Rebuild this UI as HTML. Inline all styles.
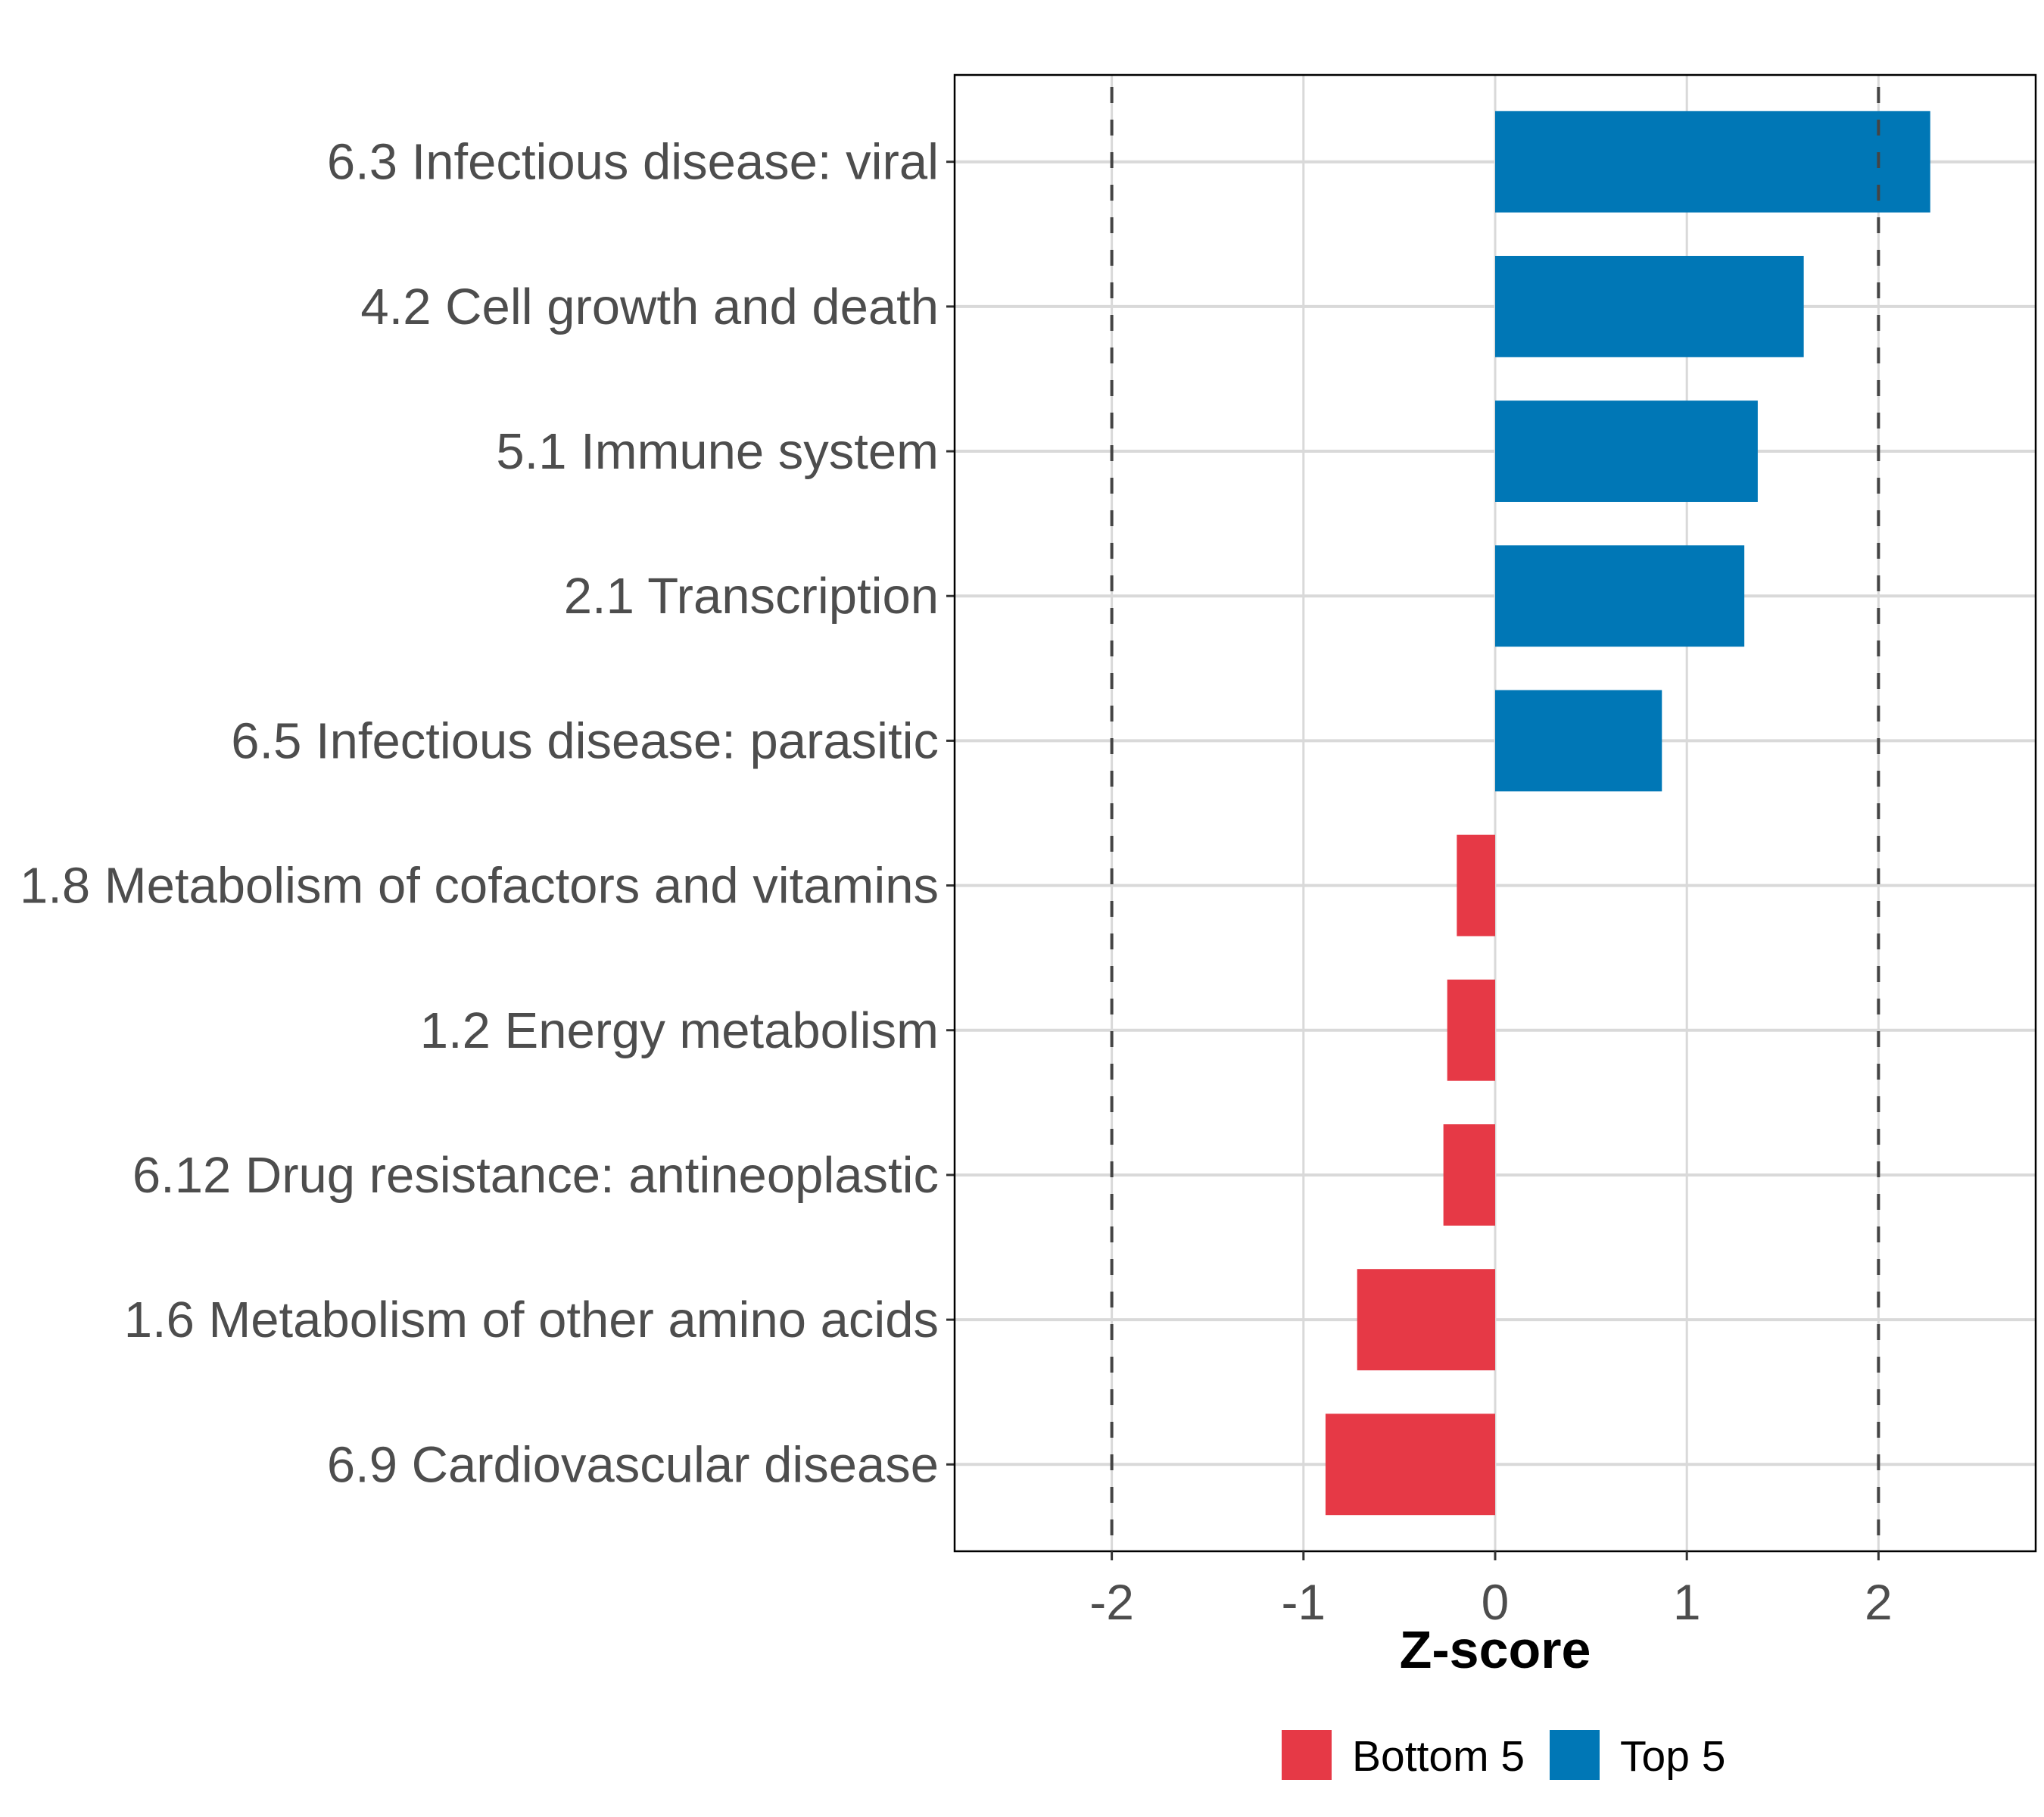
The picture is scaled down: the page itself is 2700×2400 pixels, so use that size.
<!DOCTYPE html>
<html><head><meta charset="utf-8"><style>
html,body{margin:0;padding:0;background:#fff}
svg{display:block;font-family:"Liberation Sans",sans-serif}
</style></head><body>
<svg id="chart" width="2700" height="2400" viewBox="0 0 2700 2400" xmlns="http://www.w3.org/2000/svg">
<rect width="2700" height="2400" fill="#fff"/>
<g id="grid"></g><g id="bars"></g><g id="refs"></g><g id="axes"></g>
</svg>
<script>
const categories = ["6.3 Infectious disease: viral","4.2 Cell growth and death","5.1 Immune system","2.1 Transcription","6.5 Infectious disease: parasitic","1.8 Metabolism of cofactors and vitamins","1.2 Energy metabolism","6.12 Drug resistance: antineoplastic","1.6 Metabolism of other amino acids","6.9 Cardiovascular disease"];
const zscores = [2.27, 1.61, 1.37, 1.30, 0.87, -0.20, -0.25, -0.27, -0.72, -0.885];
const groups = ["Top 5","Top 5","Top 5","Top 5","Top 5","Bottom 5","Bottom 5","Bottom 5","Bottom 5","Bottom 5"];
const xTicks = [-2, -1, 0, 1, 2];
const xTickLabels = ["-2","-1","0","1","2"];
const refLines = [-2, 2];
const legendItems = ["Bottom 5","Top 5"];

const NS="http://www.w3.org/2000/svg";
const L=1261,R=2689,T=99,B=2049;
const xMin=-2.82,xMax=2.82;
const colors={"Top 5":"#0077b6","Bottom 5":"#e63946"};
function x(v){return L+(v-xMin)/(xMax-xMin)*(R-L);}
const band=(B-T)/(categories.length-1+1.2);
function y(i){return T+band*(0.6+i);}
function mk(tag,attrs,parent){const e=document.createElementNS(NS,tag);for(const k in attrs)e.setAttribute(k,attrs[k]);parent.appendChild(e);return e;}
const gGrid=document.getElementById('grid'),gBars=document.getElementById('bars'),gRefs=document.getElementById('refs'),gAx=document.getElementById('axes');

xTicks.forEach(t=>{const l=mk('line',{x1:x(t),x2:x(t),y1:T,y2:B,stroke:'#d9d9d9','stroke-width':3},gGrid);

});
categories.forEach((c,i)=>{const l=mk('line',{x1:L,x2:R,y1:y(i),y2:y(i),stroke:'#d9d9d9','stroke-width':4},gGrid);

});

categories.forEach((c,i)=>{const v=zscores[i];const bh=band*0.7;
const r=mk('rect',{x:Math.min(x(0),x(v)),y:y(i)-bh/2,width:Math.abs(x(v)-x(0)),height:bh,fill:colors[groups[i]]},gBars);


const tk=mk('line',{x1:L-11,x2:L,y1:y(i),y2:y(i),stroke:'#333','stroke-width':3},gAx);


const t=mk('text',{x:L-21,y:y(i)+23,'text-anchor':'end','font-size':67,fill:'#4d4d4d'},gAx);t.textContent=c;

});

refLines.forEach(v=>{const l=mk('line',{x1:x(v),x2:x(v),y1:T,y2:B,stroke:'#444','stroke-width':4,'stroke-dasharray':'21 22','stroke-dashoffset':'-16'},gRefs);

});

const frame=mk('rect',{x:L,y:T,width:R-L,height:B-T,fill:'none',stroke:'#000','stroke-width':2.5},gAx);



xTicks.forEach((t,i)=>{const l=mk('line',{x1:x(t),x2:x(t),y1:B,y2:B+12,stroke:'#333','stroke-width':3},gAx);


const tx=mk('text',{x:x(t),y:2139,'text-anchor':'middle','font-size':66,fill:'#4d4d4d'},gAx);tx.textContent=xTickLabels[i];

});

const title=mk('text',{x:x(0),y:2203,'text-anchor':'middle','font-size':70,'font-weight':'bold',fill:'#000'},gAx);title.textContent='Z-score';



const lgX=[1693,2047];
legendItems.forEach((g,i)=>{const k=mk('rect',{x:lgX[i],y:2285,width:66,height:66,fill:colors[g]},gAx);


const t=mk('text',{x:lgX[i]+93,y:2339,'font-size':57,fill:'#000'},gAx);t.textContent=g;

});
</script>
</body></html>
